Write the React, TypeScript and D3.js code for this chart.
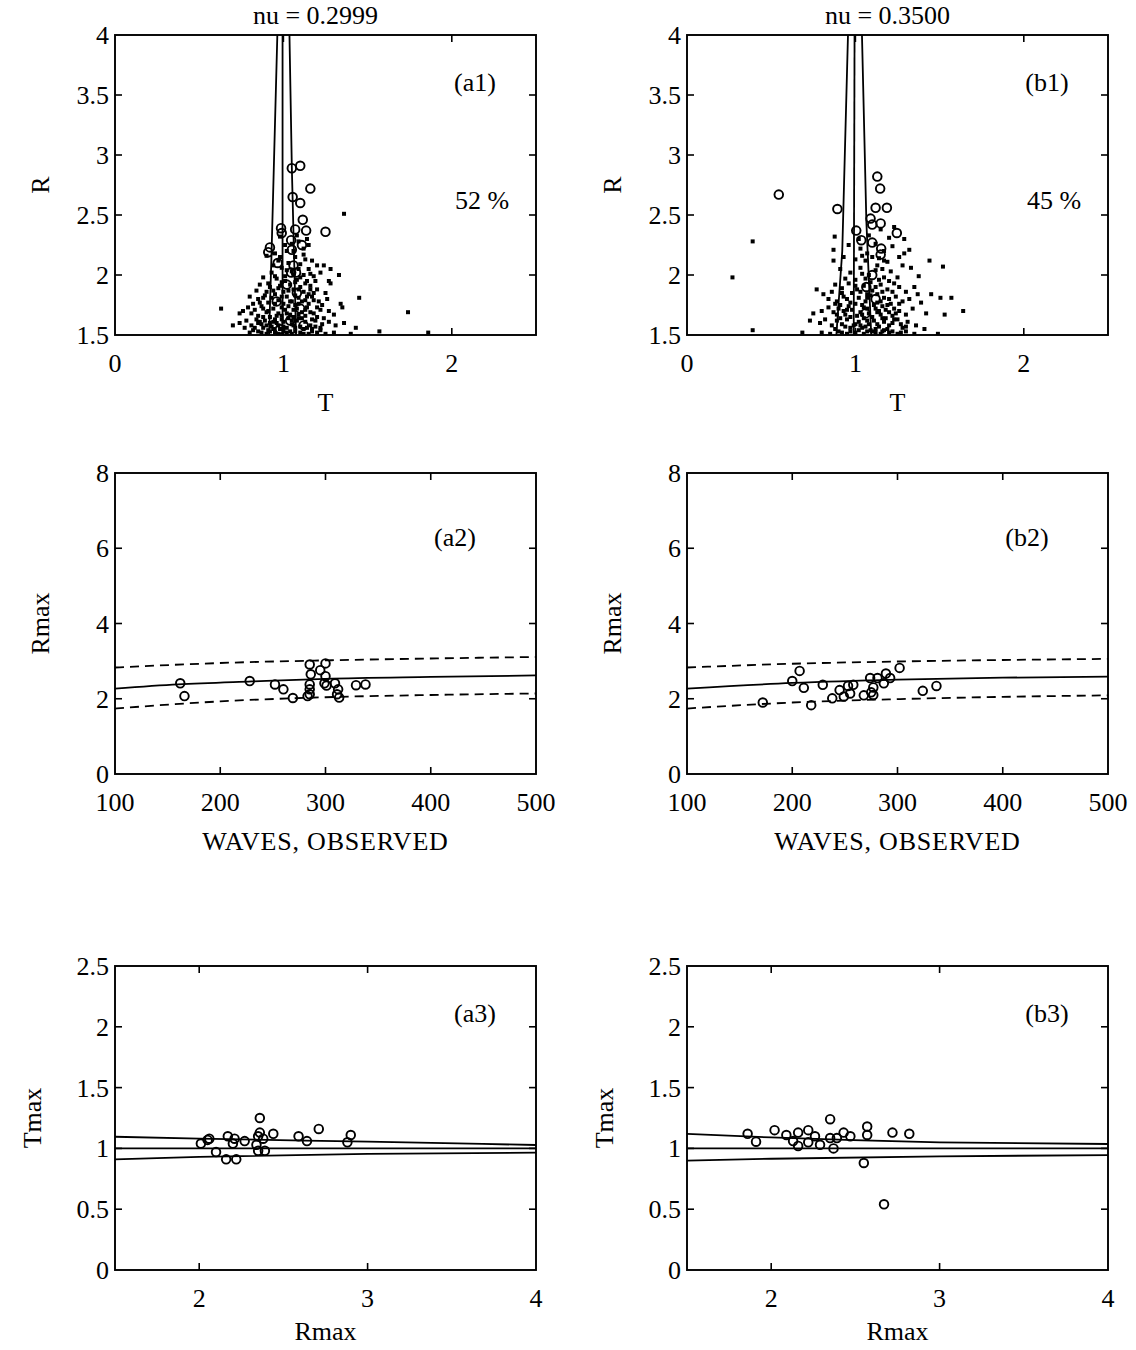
import React from 'react';
import * as d3 from 'd3';

type P = [number, number];

const FONT = '"Liberation Serif", "Times New Roman", serif';

// ---------- (a1) nu = 0.2999 : R vs T ----------
const a1Dots: P[] = [
  [1.36,2.51],[1.08,2.33],[1.14,2.30],[0.98,2.32],[1.05,2.26],[1.12,2.22],[0.95,2.18],[1.02,2.20],
  [0.90,2.16],[1.07,2.15],[1.13,2.13],[1.17,2.12],[0.97,2.12],[1.03,2.10],[1.20,2.08],[1.24,2.08],[1.10,2.09],[0.94,2.08],[1.28,2.05],[1.15,2.05],[0.99,2.06],
  [0.93,2.02],[1.05,2.03],[1.12,2.00],[1.18,1.99],[1.22,2.02],[1.33,2.00],[0.88,1.98],[0.96,1.97],[1.01,1.99],[1.08,1.96],[1.14,1.95],[1.27,1.95],[1.28,1.93],
  [0.86,1.92],[0.91,1.93],[0.98,1.91],[1.04,1.92],[1.10,1.90],[1.16,1.91],[1.20,1.88],[1.25,1.85],[0.84,1.87],[0.94,1.87],[1.00,1.86],[1.06,1.88],[1.12,1.86],[1.18,1.85],
  [0.80,1.82],[0.85,1.80],[0.89,1.83],[0.93,1.81],[0.97,1.79],[1.02,1.82],[1.05,1.78],[1.09,1.81],[1.13,1.79],[1.17,1.82],[1.21,1.78],[1.45,1.81],[1.26,1.80],[1.34,1.76],[0.82,1.76],[0.91,1.77],[1.00,1.76],[1.07,1.75],[1.15,1.76],[1.23,1.75],
  [0.63,1.72],[0.76,1.70],[0.79,1.73],[0.83,1.71],[0.87,1.74],[0.90,1.69],[0.94,1.72],[0.97,1.68],[1.01,1.71],[1.04,1.67],[1.08,1.72],[1.11,1.69],[1.14,1.73],[1.18,1.68],[1.22,1.71],[1.27,1.70],[1.35,1.73],[1.74,1.69],[0.74,1.68],[0.85,1.66],[0.92,1.65],[0.99,1.66],[1.06,1.65],[1.13,1.66],[1.20,1.65],[1.30,1.67],
  [0.74,1.60],[0.78,1.62],[0.81,1.58],[0.84,1.63],[0.87,1.59],[0.89,1.62],[0.92,1.60],[0.95,1.63],[0.97,1.58],[1.00,1.61],[1.03,1.64],[1.05,1.59],[1.08,1.62],[1.10,1.57],[1.13,1.61],[1.16,1.58],[1.19,1.62],[1.23,1.59],[1.27,1.61],[1.31,1.58],[1.36,1.60],[0.70,1.58],[0.77,1.56],[0.83,1.56],[0.88,1.56],[0.93,1.57],[0.98,1.55],[1.02,1.56],[1.07,1.56],[1.12,1.55],[1.17,1.55],[1.22,1.56],[1.43,1.56],
  [0.80,1.52],[0.85,1.53],[0.90,1.51],[0.95,1.52],[1.00,1.53],[1.05,1.51],[1.10,1.52],[1.15,1.51],[1.20,1.52],[1.25,1.51],[1.30,1.52],[1.57,1.53],[1.86,1.52],[1.40,1.51],
  [0.88,1.72],[0.95,1.84],[1.03,1.74],[1.09,1.64],[0.96,1.60],[0.91,1.54],[1.04,1.53],[1.11,1.78],[0.99,1.94],[1.06,2.00],[0.92,1.90],[1.15,1.84],[1.19,1.95],[0.86,1.61],[1.24,1.64],
  [0.87,1.52],[0.92,1.53],[0.97,1.51],[1.02,1.52],[1.07,1.53],[1.12,1.51],[1.17,1.53],[1.22,1.54],[0.82,1.54],[0.94,1.55],[1.00,1.57],[1.06,1.58],[1.14,1.56],[1.19,1.57],[0.90,1.58],
  [0.85,1.60],[0.94,1.61],[0.99,1.63],[1.05,1.62],[1.11,1.64],[1.17,1.63],[0.88,1.65],[0.96,1.66],[1.02,1.68],[1.09,1.67],[1.16,1.69],[0.81,1.68],[0.91,1.70],[0.99,1.73],[1.06,1.71],
  [1.13,1.71],[1.20,1.73],[0.86,1.77],[0.95,1.76],[1.04,1.78],[1.09,1.76],[1.18,1.79],[0.88,1.81],[0.99,1.82],[1.07,1.83],[1.14,1.82],[0.90,1.86],[1.03,1.87],[1.09,1.88],[1.16,1.88],
  [0.97,1.89],[1.13,1.93],[1.07,1.94],[1.01,1.95],[0.95,1.99],[1.10,1.98],[1.16,2.01],[1.02,2.04],[1.09,2.05],[1.12,2.17],[1.06,2.20],[0.98,2.15],[1.09,2.28],[1.01,2.25],[1.15,2.25],
];
const a1Circles: P[] = [
  [1.05,2.89],[1.10,2.91],[1.16,2.72],[1.055,2.65],[1.10,2.60],[1.115,2.46],[1.135,2.37],[1.07,2.38],[1.25,2.36],
  [0.986,2.39],[0.99,2.35],[0.92,2.23],[0.91,2.19],[0.966,2.10],[1.046,2.29],[1.05,2.21],[1.075,2.02],[1.046,2.02],[1.11,2.25],
  [1.02,1.92],[1.08,1.85],[0.96,1.78],[1.10,1.72],[1.04,1.62],[0.98,1.55],[1.12,1.58],[1.06,2.08],
];
const a1Left: P[] = [[0.915, 1.5], [0.93, 2.2], [0.964, 4]];
const a1Mid: P[] = [[0.995, 1.5], [0.995, 4]];
const a1Right: P[] = [[1.075, 1.5], [1.05, 2.9], [1.036, 4]];

// ---------- (b1) nu = 0.3500 ----------
const b1Dots: P[] = [
  [0.39,2.28],[0.877,2.32],[1.29,2.30],[1.23,2.40],[1.15,2.38],[1.08,2.33],[1.20,2.31],[1.02,2.30],
  [0.87,2.21],[0.87,2.12],[1.32,2.21],[1.44,2.12],[0.96,2.25],[1.03,2.22],[1.07,2.18],[1.12,2.26],[1.17,2.20],[1.22,2.24],[1.26,2.15],[0.93,2.15],[1.00,2.13],[1.06,2.12],[1.14,2.14],[1.19,2.11],[1.29,2.18],
  [0.27,1.98],[1.52,2.07],[1.33,2.06],[1.376,1.99],[0.91,2.05],[0.97,2.02],[1.03,2.06],[1.08,2.00],[1.12,2.04],[1.17,1.98],[1.21,2.03],[1.25,1.98],[1.28,2.08],[0.94,1.97],[1.00,1.96],[1.06,1.97],[1.14,1.96],
  [0.77,1.88],[0.81,1.84],[0.88,1.92],[0.92,1.89],[0.96,1.93],[1.01,1.88],[1.05,1.91],[1.10,1.87],[1.15,1.92],[1.19,1.88],[1.23,1.93],[1.26,1.90],[1.35,1.90],[1.37,1.84],[1.45,1.84],[1.505,1.81],[1.57,1.81],[1.30,1.86],[0.86,1.86],[0.98,1.85],
  [0.84,1.80],[0.89,1.78],[0.93,1.82],[0.97,1.77],[1.02,1.81],[1.06,1.78],[1.09,1.83],[1.13,1.77],[1.17,1.81],[1.21,1.76],[1.24,1.82],[1.28,1.78],[1.32,1.80],[1.39,1.77],[0.91,1.75],[1.00,1.76],[1.11,1.75],[1.19,1.75],
  [0.75,1.68],[0.84,1.73],[0.80,1.70],[0.87,1.69],[0.90,1.72],[0.94,1.67],[0.98,1.71],[1.01,1.66],[1.05,1.73],[1.08,1.68],[1.12,1.72],[1.15,1.67],[1.18,1.71],[1.22,1.66],[1.26,1.70],[1.30,1.67],[1.34,1.72],[1.42,1.68],[1.53,1.67],[1.64,1.70],[0.96,1.74],[1.03,1.69],[1.10,1.65],[1.20,1.69],
  [0.73,1.62],[0.79,1.60],[0.82,1.63],[0.86,1.58],[0.89,1.62],[0.92,1.59],[0.95,1.63],[0.99,1.58],[1.02,1.61],[1.05,1.64],[1.08,1.59],[1.11,1.62],[1.14,1.57],[1.17,1.61],[1.20,1.58],[1.23,1.63],[1.27,1.59],[1.31,1.61],[1.36,1.58],[1.41,1.55],[0.88,1.55],[0.97,1.56],[1.04,1.56],[1.12,1.55],[1.19,1.55],[1.28,1.56],
  [0.39,1.54],[0.685,1.52],[0.80,1.52],[0.85,1.51],[0.90,1.53],[0.95,1.51],[1.00,1.52],[1.05,1.51],[1.10,1.53],[1.15,1.51],[1.20,1.52],[1.25,1.51],[1.30,1.53],[1.35,1.51],[1.49,1.51],
  [1.13,2.08],[1.09,1.94],[1.16,1.86],[1.07,1.84],[1.14,1.70],[1.18,1.64],[1.09,1.54],[1.16,1.53],[0.93,1.70],[1.03,1.58],
  [0.92,1.52],[0.97,1.53],[1.02,1.54],[1.07,1.53],[1.12,1.52],[1.17,1.54],[1.22,1.53],[1.27,1.52],[0.94,1.57],[1.00,1.59],[1.06,1.57],[1.13,1.59],[1.22,1.60],[1.30,1.57],[0.91,1.64],
  [0.97,1.65],[1.07,1.62],[1.16,1.64],[1.25,1.63],[0.89,1.67],[1.04,1.67],[1.13,1.69],[1.24,1.68],[0.95,1.71],[1.07,1.72],[1.16,1.74],[1.23,1.72],[0.88,1.76],[1.04,1.75],[1.15,1.78],
  [1.26,1.76],[0.95,1.80],[1.07,1.81],[1.20,1.80],[0.92,1.85],[1.03,1.86],[1.13,1.84],[1.22,1.86],[1.00,1.91],[1.12,1.90],[1.20,1.95],[1.04,2.01],[1.16,2.05],[1.10,2.15],[1.04,2.16],[1.17,2.12],
];
const b1Circles: P[] = [
  [0.545,2.67],[0.893,2.55],[1.13,2.82],[1.147,2.72],[1.12,2.56],[1.187,2.56],[1.09,2.47],[1.15,2.43],[1.10,2.42],
  [1.005,2.37],[1.246,2.35],[1.035,2.29],[1.10,2.27],[1.153,2.22],[1.15,2.17],[1.065,1.90],[1.10,2.00],[1.12,1.80],[1.06,1.68],
];
const b1Left: P[] = [[0.887, 1.5], [0.922, 2.2], [0.956, 4]];
const b1Mid: P[] = [[0.99, 1.5], [0.995, 4]];
const b1Right: P[] = [[1.094, 1.5], [1.065, 2.45], [1.039, 4]];

// ---------- (a2)/(b2) Rmax vs waves observed ----------
const a2Points: P[] = [
  [162,2.41],[166,2.07],[228,2.47],[252,2.38],[260,2.25],[269,2.02],[283,2.07],[285,2.12],[285,2.25],[285,2.38],[286,2.65],[285,2.91],
  [300,2.94],[295,2.76],[300,2.60],[299,2.41],[301,2.35],[309,2.41],[312,2.25],[311,2.12],[313,2.03],[329,2.36],[338,2.38],
];
const a2Fit: P[] = [[100,2.27],[160,2.38],[230,2.46],[300,2.53],[400,2.58],[500,2.62]];
const a2Upper: P[] = [[100,2.83],[200,2.95],[300,3.02],[400,3.07],[500,3.11]];
const a2Lower: P[] = [[100,1.74],[200,1.93],[300,2.04],[400,2.10],[500,2.14]];

const b2Points: P[] = [
  [172,1.90],[200,2.47],[207,2.74],[211,2.29],[218,1.83],[229,2.37],[238,2.01],[245,2.23],[249,2.06],[253,2.34],[255,2.14],[258,2.37],
  [268,2.09],[274,2.55],[275,2.17],[277,2.10],[277,2.30],[281,2.55],[287,2.41],[289,2.67],[293,2.55],[302,2.82],[324,2.21],[337,2.34],
];
const b2Fit: P[] = [[100,2.27],[200,2.42],[300,2.51],[400,2.56],[500,2.59]];
const b2Upper: P[] = [[100,2.83],[200,2.93],[300,2.99],[400,3.03],[500,3.06]];
const b2Lower: P[] = [[100,1.74],[200,1.90],[300,1.99],[400,2.05],[500,2.09]];

// ---------- (a3)/(b3) Tmax vs Rmax ----------
const a3Points: P[] = [
  [2.01,1.04],[2.05,1.07],[2.06,1.08],[2.17,1.10],[2.21,1.08],[2.20,1.04],[2.27,1.06],[2.10,0.97],[2.16,0.91],[2.22,0.91],
  [2.36,1.25],[2.36,1.13],[2.35,1.10],[2.38,1.08],[2.34,1.03],[2.35,0.98],[2.39,0.98],[2.44,1.12],[2.59,1.10],[2.64,1.06],
  [2.71,1.16],[2.90,1.11],[2.88,1.05],
];
const a3Upper: P[] = [[1.5,1.096],[2,1.08],[3,1.055],[4,1.028]];
const a3Mid: P[] = [[1.5,1.0],[4,1.0]];
const a3Lower: P[] = [[1.5,0.91],[2,0.93],[3,0.955],[4,0.965]];

const b3Points: P[] = [
  [1.86,1.12],[1.91,1.055],[2.02,1.15],[2.09,1.11],[2.13,1.06],[2.16,1.02],[2.16,1.13],[2.22,1.15],[2.22,1.05],[2.26,1.10],
  [2.29,1.03],[2.35,1.24],[2.35,1.085],[2.37,1.00],[2.39,1.085],[2.43,1.13],[2.47,1.10],[2.57,1.18],[2.57,1.11],[2.55,0.88],
  [2.67,0.54],[2.72,1.13],[2.82,1.12],
];
const b3Upper: P[] = [[1.5,1.12],[2,1.09],[3,1.05],[4,1.036]];
const b3Mid: P[] = [[1.5,1.0],[4,1.0]];
const b3Lower: P[] = [[1.5,0.90],[2,0.915],[3,0.935],[4,0.945]];

// ---------- ticks ----------
const tTicks = [0, 1, 2];
const rTicks = [1.5, 2, 2.5, 3, 3.5, 4];
const wavesTicks = [100, 200, 300, 400, 500];
const rmaxTicks = [0, 2, 4, 6, 8];
const rmaxXTicks = [2, 3, 4];
const tmaxTicks = [0, 0.5, 1, 1.5, 2, 2.5];

interface LineSpec { pts: P[]; dash?: string; curve?: boolean }

interface PanelProps {
  left: number; top: number; width: number; height: number;
  xDomain: [number, number]; yDomain: [number, number];
  xTicks: number[]; yTicks: number[];
  xLabel: string; yLabel: string; yLabelDx: number; xLabelDy: number;
  title?: string; tag: string; tagDx: number; tagDy: number;
  note?: string;
  dots?: P[]; circles?: P[]; lines: LineSpec[];
  xLabelSpacing?: number;
}

const FS = 26;

function Panel(p: PanelProps) {
  const x = d3.scaleLinear().domain(p.xDomain).range([p.left, p.left + p.width]);
  const y = d3.scaleLinear().domain(p.yDomain).range([p.top + p.height, p.top]);
  const bottom = p.top + p.height;
  const right = p.left + p.width;
  const tl = 7;
  const clipId = `clip-${p.tag.replace(/[()]/g, '')}`;
  const mk = (curve?: boolean) => {
    const l = d3.line<P>().x(d => x(d[0])).y(d => y(d[1]));
    if (curve) l.curve(d3.curveMonotoneX);
    return l;
  };
  const fmt = (v: number) => String(v);
  const innerX = p.xTicks.filter(v => v > p.xDomain[0] && v < p.xDomain[1]);
  const innerY = p.yTicks.filter(v => v > p.yDomain[0] && v < p.yDomain[1]);
  return (
    <g fontFamily={FONT} fill="#000">
      <defs>
        <clipPath id={clipId}>
          <rect x={p.left} y={p.top} width={p.width} height={p.height} />
        </clipPath>
      </defs>
      <g clipPath={`url(#${clipId})`}>
        {p.lines.map((l, i) => (
          <path key={i} d={mk(l.curve)(l.pts) || ''} fill="none" stroke="#000" strokeWidth={1.8}
            strokeDasharray={l.dash} />
        ))}
        {(p.dots || []).map((d, i) => (
          <rect key={i} x={x(d[0]) - 2} y={y(d[1]) - 2} width={4} height={4} fill="#000" />
        ))}
        {(p.circles || []).map((d, i) => (
          <circle key={i} cx={x(d[0])} cy={y(d[1])} r={4.3} fill="none" stroke="#000" strokeWidth={1.9} />
        ))}
      </g>
      <rect x={p.left} y={p.top} width={p.width} height={p.height} fill="none" stroke="#000" strokeWidth={1.9} />
      {innerX.map(v => (
        <g key={'xt' + v}>
          <line x1={x(v)} x2={x(v)} y1={bottom} y2={bottom - tl} stroke="#000" strokeWidth={1.6} />
          <line x1={x(v)} x2={x(v)} y1={p.top} y2={p.top + tl} stroke="#000" strokeWidth={1.6} />
        </g>
      ))}
      {innerY.map(v => (
        <g key={'yt' + v}>
          <line x1={p.left} x2={p.left + tl} y1={y(v)} y2={y(v)} stroke="#000" strokeWidth={1.6} />
          <line x1={right} x2={right - tl} y1={y(v)} y2={y(v)} stroke="#000" strokeWidth={1.6} />
        </g>
      ))}
      {p.xTicks.map(v => (
        <text key={'xl' + v} x={x(v)} y={bottom + 37} textAnchor="middle" fontSize={FS}>{fmt(v)}</text>
      ))}
      {p.yTicks.map(v => (
        <text key={'yl' + v} x={p.left - 6} y={y(v) + 9} textAnchor="end" fontSize={FS}>{fmt(v)}</text>
      ))}
      <text x={(p.left + right) / 2} y={bottom + p.xLabelDy} textAnchor="middle" fontSize={FS}
        letterSpacing={p.xLabelSpacing || 0}>{p.xLabel}</text>
      <text transform={`translate(${p.left - p.yLabelDx},${p.top + p.height / 2}) rotate(-90)`}
        textAnchor="middle" fontSize={FS}>{p.yLabel}</text>
      {p.title && (
        <text x={(p.left + right) / 2 - 10} y={24} textAnchor="middle" fontSize={FS}>{p.title}</text>
      )}
      <text x={p.left + p.tagDx} y={p.top + p.tagDy + 9} textAnchor="middle" fontSize={FS}>{p.tag}</text>
      {p.note && (
        <text x={p.left + 367} y={p.top + 174} textAnchor="middle" fontSize={FS}>{p.note}</text>
      )}
    </g>
  );
}

const colA = 115;
const colB = 687;
const W = 421;

export default function App() {
  return (
    <svg width={1136} height={1350} viewBox="0 0 1136 1350"
      style={{ position: 'absolute', left: 0, top: 0, background: '#fff' }}>
      <rect x={0} y={0} width={1136} height={1350} fill="#fff" />
      <Panel left={colA} top={35} width={W} height={300} xDomain={[0, 2.5]} yDomain={[1.5, 4]}
        xTicks={tTicks} yTicks={rTicks} xLabel="T" yLabel="R" yLabelDx={66} xLabelDy={76}
        title="nu = 0.2999" tag="(a1)" tagDx={360} tagDy={47} note="52 %"
        dots={a1Dots} circles={a1Circles}
        lines={[{ pts: a1Left }, { pts: a1Mid }, { pts: a1Right }]} />
      <Panel left={colB} top={35} width={W} height={300} xDomain={[0, 2.5]} yDomain={[1.5, 4]}
        xTicks={tTicks} yTicks={rTicks} xLabel="T" yLabel="R" yLabelDx={66} xLabelDy={76}
        title="nu = 0.3500" tag="(b1)" tagDx={360} tagDy={47} note="45 %"
        dots={b1Dots} circles={b1Circles}
        lines={[{ pts: b1Left }, { pts: b1Mid }, { pts: b1Right }]} />
      <Panel left={colA} top={473} width={W} height={301} xDomain={[100, 500]} yDomain={[0, 8]}
        xTicks={wavesTicks} yTicks={rmaxTicks} xLabel="WAVES, OBSERVED" yLabel="Rmax" yLabelDx={66} xLabelDy={76}
        tag="(a2)" tagDx={340} tagDy={64} circles={a2Points} xLabelSpacing={0.8}
        lines={[{ pts: a2Fit, curve: true }, { pts: a2Upper, dash: '9,6', curve: true }, { pts: a2Lower, dash: '9,6', curve: true }]} />
      <Panel left={colB} top={473} width={W} height={301} xDomain={[100, 500]} yDomain={[0, 8]}
        xTicks={wavesTicks} yTicks={rmaxTicks} xLabel="WAVES, OBSERVED" yLabel="Rmax" yLabelDx={66} xLabelDy={76}
        tag="(b2)" tagDx={340} tagDy={64} circles={b2Points} xLabelSpacing={0.8}
        lines={[{ pts: b2Fit, curve: true }, { pts: b2Upper, dash: '9,6', curve: true }, { pts: b2Lower, dash: '9,6', curve: true }]} />
      <Panel left={colA} top={966} width={W} height={304} xDomain={[1.5, 4]} yDomain={[0, 2.5]}
        xTicks={rmaxXTicks} yTicks={tmaxTicks} xLabel="Rmax" yLabel="Tmax" yLabelDx={74} xLabelDy={70}
        tag="(a3)" tagDx={360} tagDy={47} circles={a3Points}
        lines={[{ pts: a3Upper, curve: true }, { pts: a3Mid }, { pts: a3Lower, curve: true }]} />
      <Panel left={colB} top={966} width={W} height={304} xDomain={[1.5, 4]} yDomain={[0, 2.5]}
        xTicks={rmaxXTicks} yTicks={tmaxTicks} xLabel="Rmax" yLabel="Tmax" yLabelDx={74} xLabelDy={70}
        tag="(b3)" tagDx={360} tagDy={47} circles={b3Points}
        lines={[{ pts: b3Upper, curve: true }, { pts: b3Mid }, { pts: b3Lower, curve: true }]} />
    </svg>
  );
}
